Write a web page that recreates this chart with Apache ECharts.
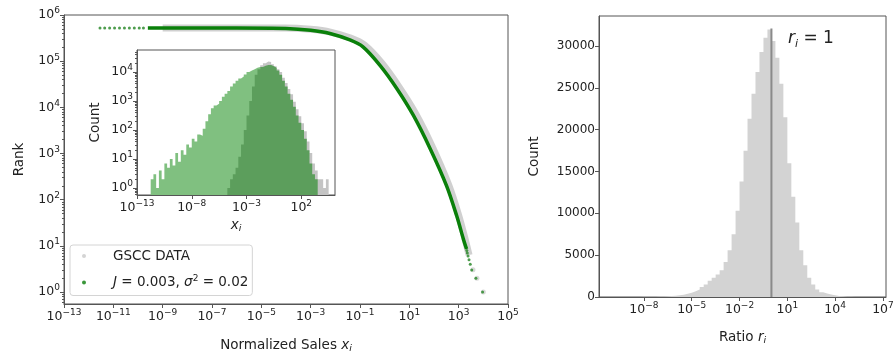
<!DOCTYPE html>
<html>
<head>
<meta charset="utf-8">
<script src="https://cdn.jsdelivr.net/npm/echarts@6/dist/echarts.min.js"></script>
<style>
  html, body { margin: 0; padding: 0; background: #fff; }
  #chart { width: 893px; height: 355px; }
</style>
</head>
<body>
<div id="chart"></div>
<script>
// ---- rank plot, values in decades (log10) ----
const modelLineSales = [-9.6, -8, -6, -4, -3, -2.22, -1.41, -0.88, -0.19, 0.49, 1.16, 1.84, 2.51, 2.92, 3.19, 3.32];
const modelLineRank  = [5.72, 5.72, 5.72, 5.71, 5.67, 5.60, 5.46, 5.31, 4.91, 4.41, 3.83, 3.11, 2.30, 1.65, 1.15, 0.93];
const modelDotSales = [-11.54, -11.35, -11.15, -10.95, -10.75, -10.55, -10.35, -10.15, -9.95, -9.78,
  3.33, 3.35, 3.38, 3.42, 3.47, 3.53, 3.70, 3.97];
const modelDotRank  = [5.72, 5.72, 5.72, 5.72, 5.72, 5.72, 5.72, 5.72, 5.72, 5.72,
  0.90, 0.845, 0.78, 0.70, 0.60, 0.477, 0.30, 0];
const gsccLineSales = [-9, -4, -3, -2.2, -1.38, -0.82, -0.12, 0.56, 1.24, 1.92, 2.59, 2.99, 3.27, 3.42];
const gsccLineRank  = [5.72, 5.72, 5.69, 5.63, 5.50, 5.35, 4.96, 4.46, 3.88, 3.16, 2.33, 1.68, 1.13, 0.8];
const gsccDotSales = [3.58, 3.74, 4.0];
const gsccDotRank  = [0.48, 0.3, 0];

// ---- inset histograms: counts per 0.25-decade bin ----
const insetBin = 0.25;
const lightStart = -11.75;
const lightCounts = [2, 3, 1, 4, 2, 7, 5, 10, 6, 16, 8, 20, 14, 32, 25, 50, 40, 70, 63, 110,
  200, 350, 560, 700, 800, 1000, 1400, 1800, 2200, 3200, 4000, 5000, 6000, 7000, 8300, 10000, 11200, 12600, 14100, 14800];
const darkStart = -4.75;
const darkCounts = [1, 2, 3, 5, 12, 32, 100, 320, 1000, 3200, 8000, 12600, 15000, 16600, 17400, 17400, 15800,
  14100, 11200, 8000, 5000, 3200, 1800, 1100, 630, 320, 180, 100, 50, 20, 7, 3, 2];
const greyStart = -3.5;
const greyCounts = [32, 130, 400, 1260, 4000, 10000, 13200, 17000, 20000, 23000, 22400, 18600, 15800, 12600, 10000,
  6300, 4200, 2600, 1700, 950, 520, 300, 170, 90, 40, 16, 7, 4, 2, 2, 1, 2];

// ---- ratio histogram ----
const ratioBin = 0.25;
const ratioStart = -9.0;
const ratioCounts = [5, 8, 10, 15, 20, 30, 40, 50, 70, 90, 120, 160, 210, 280, 380, 520, 700, 900, 1200, 1500,
  1950, 2300, 2700, 3200, 4200, 5600, 7500, 10300, 13800, 17500, 21300, 24300, 26900, 29300, 31000, 32000,
  30600, 28600, 25500, 21500, 16000, 12000, 8900, 5600, 3800, 2300, 1500, 900, 580, 420, 300, 200, 120, 80, 40, 20, 10, 5];
const ratioMarker = [0, 0, 32100];   // r_i = 1: x, bottom, top

const mainXTicks = [-13, -11, -9, -7, -5, -3, -1, 1, 3, 5];
const mainYTicks = [0, 1, 2, 3, 4, 5, 6];
const insetXTicks = [-13, -8, -3, 2];
const insetYTicks = [0, 1, 2, 3, 4];
const ratioXTicks = [-8, -5, -2, 1, 4, 7];
const ratioYTicks = [0, 5000, 10000, 15000, 20000, 25000, 30000];

const FONT = 'DejaVu Sans';
const INK = '#222';
const SPINE = '#555';

function zip(a, b) { return a.map((v, i) => [v, b[i]]); }
function hist(start, step, counts, log) {
  const pts = counts.map((c, i) => [start + i * step, log ? Math.log10(c) : c]);
  const last = pts[pts.length - 1][1];
  pts.push([start + counts.length * step, last]);
  return pts;
}
function minorTicks(lo, hi) {
  const out = [];
  for (let n = Math.floor(lo) - 1; n <= hi; n++) {
    for (let k = 2; k <= 9; k++) {
      const v = n + Math.log10(k);
      if (v > lo && v < hi) out.push(v);
    }
  }
  return out;
}
const powRich = {
  b: { fontFamily: FONT, fontSize: 12.5, color: INK, lineHeight: 17 },
  s: { fontFamily: FONT, fontSize: 9, color: INK, lineHeight: 10, verticalAlign: 'top' }
};
function powLabel(v) {
  const e = v < 0 ? '\u2212' + (-v) : String(v);
  return '{b|10}{s|' + e + '}';
}
const nameRich = {
  n: { fontFamily: FONT, fontSize: 13.5, color: INK, lineHeight: 17 },
  it: { fontFamily: FONT, fontSize: 13.5, color: INK, fontStyle: 'italic', lineHeight: 17 },
  sub: { fontFamily: FONT, fontSize: 9.5, color: INK, fontStyle: 'italic', lineHeight: 10, verticalAlign: 'bottom' }
};

function logAxis(grid, min, max, ticks, extra) {
  return Object.assign({
    type: 'value', gridIndex: grid, min: min, max: max,
    axisLine: { show: true, onZero: false, lineStyle: { color: SPINE } },
    axisTick: { show: true, length: 4, lineStyle: { color: SPINE }, customValues: ticks },
    axisLabel: { customValues: ticks, formatter: powLabel, rich: powRich, margin: 4 },
    splitLine: { show: false }
  }, extra || {});
}
function minorAxis(grid, min, max, pos) {
  return {
    type: 'value', gridIndex: grid, min: min, max: max, position: pos,
    axisLine: { show: false, onZero: false },
    axisTick: { show: true, length: 2, lineStyle: { color: SPINE }, customValues: minorTicks(min, max) },
    axisLabel: { show: false },
    splitLine: { show: false }
  };
}

const option = {
  animation: false,
  textStyle: { fontFamily: FONT, color: INK },
  grid: [
    { left: 64, right: 385, top: 15, bottom: 51, show: true, borderColor: SPINE, borderWidth: 1, outerBoundsMode: 'none' },
    { left: 137, right: 558, top: 50, bottom: 160, show: true, borderColor: SPINE, borderWidth: 1, backgroundColor: '#fff', outerBoundsMode: 'none' },
    { left: 599, right: 7, top: 16, bottom: 58, show: true, borderColor: SPINE, borderWidth: 1, outerBoundsMode: 'none' }
  ],
  xAxis: [
    logAxis(0, -13, 5, mainXTicks, {
      name: '{n|Normalized Sales }{it|x}{sub|i}', nameLocation: 'middle', nameGap: 33,
      nameTextStyle: { rich: nameRich }
    }),
    logAxis(1, -13, 5.08, insetXTicks, {
      name: '{it|x}{sub|i}', nameLocation: 'middle', nameGap: 22,
      nameTextStyle: { rich: nameRich }
    }),
    {
      type: 'value', gridIndex: 2, min: -10.82, max: 7.19,
      name: '{n|Ratio }{it|r}{sub|i}', nameLocation: 'middle', nameGap: 32,
      nameTextStyle: { rich: nameRich },
      axisLine: { show: true, onZero: false, lineStyle: { color: SPINE } },
      axisTick: { show: true, length: 4, lineStyle: { color: SPINE }, customValues: ratioXTicks },
      axisLabel: { customValues: ratioXTicks, formatter: powLabel, rich: powRich, margin: 4 },
      splitLine: { show: false }
    }
  ],
  yAxis: [
    logAxis(0, -0.26, 6, mainYTicks, {
      name: 'Rank', nameLocation: 'middle', nameGap: 38,
      nameTextStyle: { fontSize: 13.5, color: INK }
    }),
    minorAxis(0, -0.26, 6, 'left'),
    logAxis(1, -0.24, 4.76, insetYTicks, {
      name: 'Count', nameLocation: 'middle', nameGap: 35,
      nameTextStyle: { fontSize: 13.5, color: INK }
    }),
    minorAxis(1, -0.24, 4.76, 'left'),
    {
      type: 'value', gridIndex: 2, min: 0, max: 33600,
      name: 'Count', nameLocation: 'middle', nameGap: 58,
      nameTextStyle: { fontSize: 13.5, color: INK },
      axisLine: { show: true, onZero: false, lineStyle: { color: SPINE } },
      axisTick: { show: true, length: 4, lineStyle: { color: SPINE }, customValues: ratioYTicks },
      axisLabel: { customValues: ratioYTicks, formatter: v => String(v), fontSize: 12, color: INK, margin: 4 },
      splitLine: { show: false }
    }
  ],
  legend: {
    left: 70, top: 245, orient: 'vertical',
    padding: [4, 4, 6, 12], itemGap: 11,
    itemWidth: 14, itemHeight: 4,
    borderColor: '#d4d4d4', borderWidth: 1, borderRadius: 3,
    backgroundColor: '#fff',
    data: [
      { name: 'GSCC DATA', icon: 'circle', itemStyle: { color: '#d4d4d4' } },
      { name: 'model', icon: 'circle', itemStyle: { color: '#3a963a' } }
    ],
    formatter: function (name) {
      return name === 'model' ? '{it|J}{n| = 0.003, }{it|\u03c3}{s|2}{n| = 0.02}' : '{n|GSCC DATA}';
    },
    textStyle: {
      padding: [0, 0, 0, 17],
      rich: {
        n: { fontFamily: FONT, fontSize: 13.5, color: INK, lineHeight: 17 },
        it: { fontFamily: FONT, fontSize: 13.5, color: INK, fontStyle: 'italic', lineHeight: 17 },
        s: { fontFamily: FONT, fontSize: 9, color: INK, lineHeight: 10, verticalAlign: 'top' }
      }
    }
  },
  graphic: [{
    type: 'text', left: 788, top: 30,
    style: {
      text: '{it|r}{sub|i}{n| = 1}',
      rich: {
        n: { fontFamily: FONT, fontSize: 17, fill: INK, lineHeight: 22 },
        it: { fontFamily: FONT, fontSize: 17, fill: INK, fontStyle: 'italic', lineHeight: 22 },
        sub: { fontFamily: FONT, fontSize: 11, fill: INK, fontStyle: 'italic', lineHeight: 12, verticalAlign: 'bottom' }
      }
    }
  }],
  series: [
    {
      name: 'GSCC DATA', type: 'line', xAxisIndex: 0, yAxisIndex: 0,
      data: zip(gsccLineSales, gsccLineRank), smooth: 0.3, showSymbol: false,
      color: '#cfcfcf', lineStyle: { width: 7, color: 'rgba(200,200,200,0.85)' }, z: 2
    },
    {
      name: 'GSCC DATA', type: 'scatter', xAxisIndex: 0, yAxisIndex: 0,
      data: zip(gsccDotSales, gsccDotRank), symbolSize: 5,
      itemStyle: { color: 'rgba(200,200,200,0.85)' }, z: 2
    },
    {
      name: 'model', type: 'line', xAxisIndex: 0, yAxisIndex: 0,
      data: zip(modelLineSales, modelLineRank), smooth: 0.3, showSymbol: false,
      color: '#0a800a', lineStyle: { width: 3.5, color: '#0a800a' }, z: 3
    },
    {
      name: 'model', type: 'scatter', xAxisIndex: 0, yAxisIndex: 0,
      data: zip(modelDotSales, modelDotRank), symbolSize: 3,
      itemStyle: { color: '#2e8b2e', opacity: 0.85 }, z: 3
    },
    {
      name: 'inset grey', type: 'line', xAxisIndex: 1, yAxisIndex: 2, step: 'end',
      data: hist(greyStart, insetBin, greyCounts, true), showSymbol: false,
      lineStyle: { width: 0 }, areaStyle: { origin: 'start', color: '#c4c4c4', opacity: 1 }, z: 2
    },
    {
      name: 'inset light', type: 'line', xAxisIndex: 1, yAxisIndex: 2, step: 'end',
      data: hist(lightStart, insetBin, lightCounts, true), showSymbol: false,
      lineStyle: { width: 0 }, areaStyle: { origin: 'start', color: '#80c080', opacity: 1 }, z: 3
    },
    {
      name: 'inset dark', type: 'line', xAxisIndex: 1, yAxisIndex: 2, step: 'end',
      data: hist(darkStart, insetBin, darkCounts, true), showSymbol: false,
      lineStyle: { width: 0 }, areaStyle: { origin: 'start', color: '#5c9e5c', opacity: 1 }, z: 4
    },
    {
      name: 'ratio', type: 'line', xAxisIndex: 2, yAxisIndex: 4, step: 'end',
      data: hist(ratioStart, ratioBin, ratioCounts, false), showSymbol: false,
      lineStyle: { width: 0 }, areaStyle: { origin: 'start', color: '#d3d3d3', opacity: 1 }
    },
    {
      name: 'r=1', type: 'custom', xAxisIndex: 2, yAxisIndex: 4, z: 3,
      data: [ratioMarker],
      renderItem: function (params, api) {
        const p0 = api.coord([api.value(0), api.value(1)]);
        const p1 = api.coord([api.value(0), api.value(2)]);
        return {
          type: 'line',
          shape: { x1: p0[0], y1: p0[1], x2: p1[0], y2: p1[1] },
          style: { stroke: '#8a8a8a', lineWidth: 2 }
        };
      }
    }
  ]
};

const chart = echarts.init(document.getElementById('chart'));
chart.setOption(option);
</script>
</body>
</html>
